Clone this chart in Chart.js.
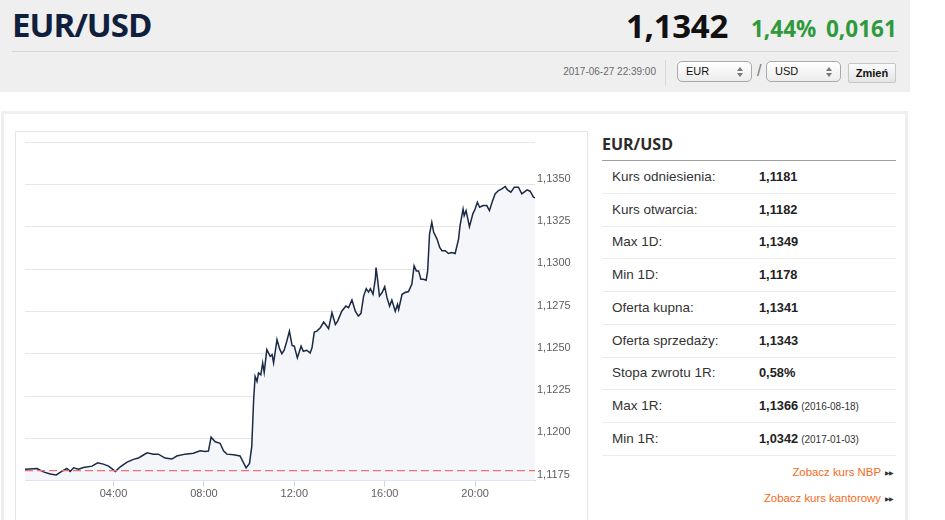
<!DOCTYPE html>
<html>
<head>
<meta charset="utf-8">
<script src="https://cdn.jsdelivr.net/npm/chart.js@4.4.0/dist/chart.umd.min.js"></script>
<style>
body { margin: 0; width: 945px; height: 520px; overflow: hidden; background: #fff; font-family: "Liberation Sans", Arial, sans-serif; position: relative; }
.abs { position: absolute; white-space: nowrap; }
#header { left: 0; top: 0; width: 910px; height: 92px; background: #efefef; }
.big { font-family: "Open Sans", sans-serif; line-height: normal; }
.sel { position: absolute; top: 61px; width: 75px; height: 21px; box-sizing: border-box; border: 1px solid #a9a9a9; border-radius: 5px; background: linear-gradient(#ffffff, #ececec); font-size: 11px; line-height: 19px; padding-left: 8px; color: #111; }
.sel::before { content: ''; position: absolute; right: 8px; top: 5px; border-left: 3px solid transparent; border-right: 3px solid transparent; border-bottom: 4px solid #777; }
.sel::after { content: ''; position: absolute; right: 8px; top: 11px; border-left: 3px solid transparent; border-right: 3px solid transparent; border-top: 4px solid #777; }
.btn { position: absolute; left: 848px; top: 63px; width: 48px; height: 20px; box-sizing: border-box; border: 1px solid #c6c6c6; border-radius: 2px; background: linear-gradient(#fbfbfb, #e4e4e4); font-size: 11px; font-weight: bold; line-height: 18px; text-align: center; color: #111; }
#panel { left: 1px; top: 111px; width: 907px; height: 420px; box-sizing: border-box; border: 3px solid #efefef; border-bottom: none; }
#chartbox { left: 15px; top: 131px; width: 573px; height: 400px; box-sizing: border-box; border: 1px solid #e6e6e6; }
#wrap { left: 16px; top: 132px; width: 571px; height: 388px; }
.row { position: absolute; left: 602px; width: 294px; height: 32px; border-bottom: 1px solid #ececec; font-size: 13.5px; color: #333; }
.row .lab { position: absolute; left: 10px; top: 8px; }
.row .val { position: absolute; left: 157px; top: 8px; font-weight: bold; font-size: 12.8px; color: #222; }
.row .val small { font-weight: normal; font-size: 10px; margin-left: 3px; color: #333; }
.link { position: absolute; right: 52px; font-size: 11.4px; color: #f36b21; }
.link span { font-size: 6px; color: #333; margin-left: 4px; letter-spacing: -1px; vertical-align: 1px; }
</style>
</head>
<body>
<div id="header" class="abs"></div>
<div class="abs big" style="left:12px;top:2px;font-size:33px;font-weight:700;color:#0f1f3d;letter-spacing:-1px;">EUR/USD</div>
<div class="abs big" style="left:626px;top:3px;font-size:33px;font-weight:700;color:#111;letter-spacing:-0.3px;">1,1342</div>
<div class="abs big" style="left:751px;top:13px;font-size:22.5px;font-weight:700;color:#2f9a3c;">1,44%</div>
<div class="abs big" style="left:826px;top:13px;font-size:22.5px;font-weight:700;color:#2f9a3c;">0,0161</div>
<div class="abs" style="left:12px;top:51px;width:886px;height:1px;background:#d6d6d6;"></div>
<div class="abs" style="right:289px;top:66px;font-size:10px;color:#6a6a6a;">2017-06-27 22:39:00</div>
<div class="abs" style="left:665px;top:60px;width:1px;height:26px;background:#d9d9d9;"></div>
<div class="sel" style="left:677px;">EUR</div>
<div class="abs" style="left:757px;top:62px;font-size:16px;color:#777;">/</div>
<div class="sel" style="left:766px;">USD</div>
<div class="btn">Zmień</div>

<div id="panel" class="abs"></div>
<div id="chartbox" class="abs"></div>
<div id="wrap" class="abs"><canvas id="chart" width="571" height="388"></canvas></div>

<div class="abs" style="left:602px;top:133px;font-family:'Open Sans',sans-serif;font-size:16px;font-weight:700;color:#2b2b2b;">EUR/USD</div>
<div class="abs" style="left:602px;top:160px;width:294px;height:1px;background:#a0a0a0;"></div>
<div id="table"></div>
<div class="link" style="top:466px;">Zobacz kurs NBP<span>▶▶</span></div>
<div class="link" style="top:492px;">Zobacz kurs kantorowy<span>▶▶</span></div>

<script>
// intraday quotes EUR/USD, 2017-06-27
const times = ['00:05','00:37','00:54','01:12','01:28','01:38','01:56','02:05','02:14','02:27',
    '02:40','03:03','03:18','03:33','03:47','04:05','04:18','04:36','04:53','05:06',
    '05:15','05:29','05:46','05:59','06:17','06:35','06:48','07:10','07:32','07:50',
    '08:03','08:12','08:19','08:30','08:43','08:52','09:01','09:19','09:36','09:52',
    '10:01','10:07','10:12','10:16','10:21','10:25','10:31','10:36','10:40','10:47',
    '10:56','11:01','11:05','11:14','11:21','11:27','11:33','11:40','11:47','11:54',
    '12:00','12:08','12:18','12:24','12:33','12:42','12:47','12:53','13:00','13:09',
    '13:18','13:25','13:31','13:40','13:49','13:55','14:06','14:17','14:24','14:33',
    '14:42','14:50','14:57','15:04','15:11','15:17','15:22','15:29','15:35','15:37',
    '15:41','15:46','15:53','16:00','16:06','16:13','16:19','16:28','16:34','16:37',
    '16:46','16:54','17:03','17:12','17:18','17:24','17:30','17:36','17:43','17:50',
    '17:54','17:59','18:05','18:10','18:19','18:26','18:32','18:41','18:49','18:58',
    '19:07','19:16','19:20','19:28','19:31','19:36','19:45','19:54','20:00','20:06',
    '20:12','20:21','20:31','20:38','20:45','20:53','21:02','21:11','21:20','21:26',
    '21:35','21:44','21:55','22:04','22:18','22:26','22:35','22:39'];
const rates = [1.11817,1.11822,1.11802,1.11790,1.11784,1.11799,1.11822,1.11805,1.11826,1.11818,
    1.11828,1.11836,1.11856,1.11848,1.11836,1.11805,1.11832,1.11860,1.11876,1.11884,
    1.11896,1.11915,1.11907,1.11907,1.11884,1.11878,1.11896,1.11907,1.11912,1.11927,
    1.11923,1.11925,1.12007,1.11980,1.11971,1.11927,1.11907,1.11903,1.11896,1.11826,
    1.11852,1.11951,1.12228,1.12366,1.12337,1.12387,1.12376,1.12446,1.12390,1.12525,
    1.12485,1.12495,1.12446,1.12584,1.12529,1.12501,1.12521,1.12574,1.12634,1.12549,
    1.12545,1.12476,1.12545,1.12515,1.12521,1.12505,1.12535,1.12628,1.12634,1.12654,
    1.12687,1.12667,1.12648,1.12743,1.12673,1.12693,1.12752,1.12782,1.12773,1.12818,
    1.12752,1.12723,1.12739,1.12841,1.12885,1.12865,1.12885,1.12852,1.12941,1.13010,
    1.12941,1.12841,1.12862,1.12897,1.12832,1.12782,1.12818,1.12752,1.12792,1.12762,
    1.12852,1.12862,1.12868,1.12911,1.13020,1.12990,1.12990,1.12941,1.12941,1.12935,
    1.12990,1.13208,1.13277,1.13218,1.13178,1.13129,1.13109,1.13109,1.13093,1.13099,
    1.13093,1.13178,1.13257,1.13356,1.13317,1.13346,1.13251,1.13327,1.13356,1.13396,
    1.13366,1.13376,1.13376,1.13346,1.13396,1.13445,1.13465,1.13475,1.13489,1.13469,
    1.13455,1.13485,1.13485,1.13445,1.13469,1.13461,1.13426,1.13422];
const referenceRate = 1.1181;
const xTicks = ['04:00','08:00','12:00','16:00','20:00'];
const yTicks = [1.1175,1.1200,1.1225,1.1250,1.1275,1.1300,1.1325,1.1350,1.1375];
const xStart = '00:05';
const xEnd = '22:39';

const tableLabels = ['Kurs odniesienia:','Kurs otwarcia:','Max 1D:','Min 1D:','Oferta kupna:','Oferta sprzedaży:','Stopa zwrotu 1R:','Max 1R:','Min 1R:'];
const tableValues = ['1,1181','1,1182','1,1349','1,1178','1,1341','1,1343','0,58%','1,1366','1,0342'];
const tableDates = ['','','','','','','','2016-08-18','2017-01-03'];

function toMin(s) {
    const p = s.split(':');
    return parseInt(p[0]) * 60 + parseInt(p[1]);
}
function fmtTime(m) {
    const h = Math.floor(m / 60), mm = m % 60;
    return String(h).padStart(2, '0') + ':' + String(mm).padStart(2, '0');
}

// right-hand table
const table = document.getElementById('table');
tableLabels.forEach((label, i) => {
    const row = document.createElement('div');
    row.className = 'row';
    row.style.top = (161 + i * 32.7) + 'px';
    const date = tableDates[i] ? `<small>(${tableDates[i]})</small>` : '';
    row.innerHTML = `<span class="lab">${label}</span><span class="val">${tableValues[i]}${date}</span>`;
    table.appendChild(row);
});

const points = times.map((t, i) => ({ x: toMin(t), y: rates[i] }));
const minX = toMin(xStart), maxX = toMin(xEnd);

Chart.defaults.font.family = '"Liberation Sans", Arial, sans-serif';

const ctx = document.getElementById('chart').getContext('2d');
const chart = new Chart(ctx, {
    type: 'line',
    data: {
        datasets: [{
            data: points,
            borderColor: '#1a2945',
            borderWidth: 1.5,
            backgroundColor: '#f5f6f9',
            fill: 'start',
            pointRadius: 0,
            tension: 0,
            order: 1
        }, {
            data: [{ x: minX, y: referenceRate }, { x: maxX, y: referenceRate }],
            borderColor: '#ef7272',
            borderWidth: 1.2,
            borderDash: [8, 4],
            pointRadius: 0,
            fill: false,
            order: 0
        }]
    },
    options: {
        responsive: false,
        animation: false,
        layout: { padding: { left: 9, top: 10.3, right: 0, bottom: 0 } },
        plugins: { legend: { display: false }, tooltip: { enabled: false } },
        scales: {
            x: {
                type: 'linear',
                min: minX,
                max: maxX,
                afterBuildTicks: scale => { scale.ticks = xTicks.map(t => ({ value: toMin(t) })); },
                afterFit: scale => { scale.height = 39.3; },
                grid: { drawOnChartArea: false, drawTicks: true, tickLength: 6, color: '#ccd6eb' },
                border: { display: true, color: '#ccd6eb' },
                ticks: {
                    autoSkip: false,
                    maxRotation: 0,
                    padding: 1,
                    color: '#606060',
                    font: { size: 11 },
                    callback: v => fmtTime(v)
                }
            },
            y: {
                position: 'right',
                min: yTicks[0],
                max: yTicks[yTicks.length - 1],
                afterBuildTicks: scale => { scale.ticks = yTicks.map(v => ({ value: v })); },
                afterFit: scale => { scale.width = 52; },
                grid: { color: '#e6e6e6', drawTicks: false },
                border: { display: false },
                ticks: {
                    padding: 2,
                    labelOffset: -6,
                    color: '#606060',
                    font: { size: 11 },
                    callback: (v, i) => i === yTicks.length - 1 ? '' : v.toFixed(4).replace('.', ',')
                }
            }
        }
    }
});
</script>
</body>
</html>
